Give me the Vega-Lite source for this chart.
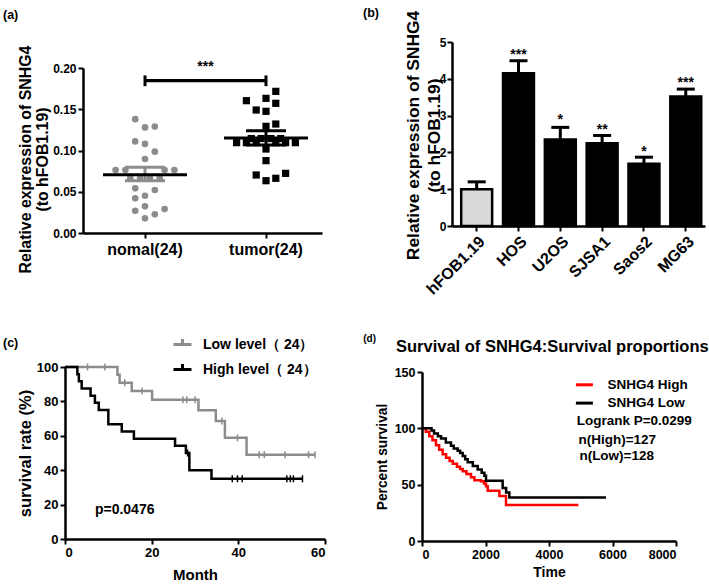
{
  "$schema": "https://vega.github.io/schema/vega-lite/v6.json",
  "padding": {"left": 3, "top": 6, "right": 0, "bottom": 0},
  "columns": 2,
  "align": "none",
  "spacing": {"row": 36, "column": 37},
  "resolve": {"scale": {"color": "independent", "xOffset": "independent"}, "legend": {"color": "independent"}},
  "datasets": {
    "a_pts": [
      {"group": "nomal(24)", "value": 0.138, "col": -1},
      {"group": "nomal(24)", "value": 0.128, "col": 0},
      {"group": "nomal(24)", "value": 0.129, "col": 1},
      {"group": "nomal(24)", "value": 0.111, "col": -1},
      {"group": "nomal(24)", "value": 0.108, "col": 0},
      {"group": "nomal(24)", "value": 0.0986, "col": 1},
      {"group": "nomal(24)", "value": 0.0897, "col": 0},
      {"group": "nomal(24)", "value": 0.0764, "col": -3},
      {"group": "nomal(24)", "value": 0.0764, "col": -2},
      {"group": "nomal(24)", "value": 0.0764, "col": 2},
      {"group": "nomal(24)", "value": 0.0764, "col": 3},
      {"group": "nomal(24)", "value": 0.0667, "col": -1.5},
      {"group": "nomal(24)", "value": 0.0667, "col": -0.5},
      {"group": "nomal(24)", "value": 0.0667, "col": 0.5},
      {"group": "nomal(24)", "value": 0.0667, "col": 1.5},
      {"group": "nomal(24)", "value": 0.0541, "col": -1},
      {"group": "nomal(24)", "value": 0.0521, "col": 1},
      {"group": "nomal(24)", "value": 0.042, "col": -1},
      {"group": "nomal(24)", "value": 0.0452, "col": 0},
      {"group": "nomal(24)", "value": 0.027, "col": -1},
      {"group": "nomal(24)", "value": 0.0323, "col": 0},
      {"group": "nomal(24)", "value": 0.029, "col": 2},
      {"group": "nomal(24)", "value": 0.0178, "col": 0},
      {"group": "nomal(24)", "value": 0.0226, "col": 1},
      {"group": "tumor(24)", "value": 0.1717, "col": 1},
      {"group": "tumor(24)", "value": 0.1604, "col": -2},
      {"group": "tumor(24)", "value": 0.1632, "col": 0},
      {"group": "tumor(24)", "value": 0.1572, "col": 1},
      {"group": "tumor(24)", "value": 0.1491, "col": -1},
      {"group": "tumor(24)", "value": 0.1475, "col": 0},
      {"group": "tumor(24)", "value": 0.1321, "col": 1},
      {"group": "tumor(24)", "value": 0.1293, "col": 0},
      {"group": "tumor(24)", "value": 0.1095, "col": -3},
      {"group": "tumor(24)", "value": 0.1095, "col": -2},
      {"group": "tumor(24)", "value": 0.1095, "col": -1},
      {"group": "tumor(24)", "value": 0.1095, "col": 1},
      {"group": "tumor(24)", "value": 0.1095, "col": 2},
      {"group": "tumor(24)", "value": 0.1095, "col": 3},
      {"group": "tumor(24)", "value": 0.1145, "col": -1.5},
      {"group": "tumor(24)", "value": 0.1145, "col": -0.5},
      {"group": "tumor(24)", "value": 0.1145, "col": 0.5},
      {"group": "tumor(24)", "value": 0.1145, "col": 1.5},
      {"group": "tumor(24)", "value": 0.1018, "col": 0},
      {"group": "tumor(24)", "value": 0.0877, "col": 0},
      {"group": "tumor(24)", "value": 0.0703, "col": -1},
      {"group": "tumor(24)", "value": 0.0723, "col": 2},
      {"group": "tumor(24)", "value": 0.0663, "col": 1},
      {"group": "tumor(24)", "value": 0.0634, "col": 0}
    ],
    "a_sum": [
      {"group": "nomal(24)", "mean": 0.0707, "lo": 0.0634, "hi": 0.0796},
      {"group": "tumor(24)", "mean": 0.1152, "lo": 0.1067, "hi": 0.124}
    ],
    "a_sig": [
      {"from": "nomal(24)", "to": "tumor(24)", "y": 0.1846, "capLo": 0.178, "capHi": 0.191, "label": "***", "labelY": 0.1964}
    ],
    "b_bars": [
      {"line": "hFOB1.19", "mean": 1.0, "hi": 1.2, "star": "", "starY": 1.3},
      {"line": "HOS", "mean": 4.15, "hi": 4.49, "star": "***", "starY": 4.55},
      {"line": "U2OS", "mean": 2.35, "hi": 2.68, "star": "*", "starY": 2.76},
      {"line": "SJSA1", "mean": 2.25, "hi": 2.46, "star": "**", "starY": 2.51},
      {"line": "Saos2", "mean": 1.69, "hi": 1.87, "star": "*", "starY": 1.9},
      {"line": "MG63", "mean": 3.52, "hi": 3.72, "star": "***", "starY": 3.78}
    ],
    "c_km": [
      {"g": "Low level（ 24）", "m": 0, "s": 100},
      {"g": "Low level（ 24）", "m": 12.1, "s": 95.5},
      {"g": "Low level（ 24）", "m": 12.6, "s": 90.9},
      {"g": "Low level（ 24）", "m": 15.4, "s": 86.1},
      {"g": "Low level（ 24）", "m": 20.1, "s": 81.0},
      {"g": "Low level（ 24）", "m": 30.8, "s": 74.8},
      {"g": "Low level（ 24）", "m": 34.8, "s": 68.6},
      {"g": "Low level（ 24）", "m": 36.9, "s": 58.8},
      {"g": "Low level（ 24）", "m": 41.9, "s": 49.0},
      {"g": "Low level（ 24）", "m": 57.7, "s": 49.0},
      {"g": "High level（ 24）", "m": 0, "s": 100},
      {"g": "High level（ 24）", "m": 2.85, "s": 95.8},
      {"g": "High level（ 24）", "m": 3.2, "s": 91.7},
      {"g": "High level（ 24）", "m": 3.85, "s": 87.5},
      {"g": "High level（ 24）", "m": 5.9, "s": 83.3},
      {"g": "High level（ 24）", "m": 6.9, "s": 79.2},
      {"g": "High level（ 24）", "m": 7.8, "s": 75.0},
      {"g": "High level（ 24）", "m": 10.0, "s": 66.7},
      {"g": "High level（ 24）", "m": 13.1, "s": 62.5},
      {"g": "High level（ 24）", "m": 15.9, "s": 58.3},
      {"g": "High level（ 24）", "m": 25.4, "s": 54.2},
      {"g": "High level（ 24）", "m": 27.9, "s": 50.0},
      {"g": "High level（ 24）", "m": 28.7, "s": 40.0},
      {"g": "High level（ 24）", "m": 33.8, "s": 35.0},
      {"g": "High level（ 24）", "m": 54.8, "s": 35.0}
    ],
    "c_cens": [
      {"g": "Low", "m": 5.2, "s": 100},
      {"g": "Low", "m": 9.2, "s": 100},
      {"g": "Low", "m": 13.8, "s": 90.9},
      {"g": "Low", "m": 17.8, "s": 86.1},
      {"g": "Low", "m": 27.2, "s": 81.0},
      {"g": "Low", "m": 28.1, "s": 81.0},
      {"g": "Low", "m": 30.0, "s": 81.0},
      {"g": "Low", "m": 36.2, "s": 68.6},
      {"g": "Low", "m": 39.8, "s": 58.8},
      {"g": "Low", "m": 44.8, "s": 49.0},
      {"g": "Low", "m": 46.0, "s": 49.0},
      {"g": "Low", "m": 50.8, "s": 49.0},
      {"g": "Low", "m": 56.2, "s": 49.0},
      {"g": "Low", "m": 57.7, "s": 49.0},
      {"g": "High", "m": 28.3, "s": 50.0},
      {"g": "High", "m": 38.6, "s": 35.0},
      {"g": "High", "m": 39.8, "s": 35.0},
      {"g": "High", "m": 40.9, "s": 35.0},
      {"g": "High", "m": 51.2, "s": 35.0},
      {"g": "High", "m": 52.0, "s": 35.0},
      {"g": "High", "m": 52.7, "s": 35.0},
      {"g": "High", "m": 54.8, "s": 35.0}
    ],
    "d_km": [
      {"g": "SNHG4 High", "t": 0, "s": 100},
      {"g": "SNHG4 High", "t": 120, "s": 97},
      {"g": "SNHG4 High", "t": 230, "s": 93},
      {"g": "SNHG4 High", "t": 330, "s": 89.5},
      {"g": "SNHG4 High", "t": 440, "s": 85},
      {"g": "SNHG4 High", "t": 540, "s": 81},
      {"g": "SNHG4 High", "t": 650, "s": 77},
      {"g": "SNHG4 High", "t": 760, "s": 74},
      {"g": "SNHG4 High", "t": 870, "s": 71},
      {"g": "SNHG4 High", "t": 970, "s": 68.5},
      {"g": "SNHG4 High", "t": 1100, "s": 66},
      {"g": "SNHG4 High", "t": 1200, "s": 64},
      {"g": "SNHG4 High", "t": 1282, "s": 62},
      {"g": "SNHG4 High", "t": 1400, "s": 59.5},
      {"g": "SNHG4 High", "t": 1543, "s": 56.5},
      {"g": "SNHG4 High", "t": 1650, "s": 54},
      {"g": "SNHG4 High", "t": 1858, "s": 53},
      {"g": "SNHG4 High", "t": 1950, "s": 51},
      {"g": "SNHG4 High", "t": 2016, "s": 48.5},
      {"g": "SNHG4 High", "t": 2069, "s": 44.5},
      {"g": "SNHG4 High", "t": 2437, "s": 40},
      {"g": "SNHG4 High", "t": 2646, "s": 32},
      {"g": "SNHG4 High", "t": 4926, "s": 32},
      {"g": "SNHG4 Low", "t": 0, "s": 100},
      {"g": "SNHG4 Low", "t": 300, "s": 98},
      {"g": "SNHG4 Low", "t": 380, "s": 95.5},
      {"g": "SNHG4 Low", "t": 500, "s": 93},
      {"g": "SNHG4 Low", "t": 600, "s": 91},
      {"g": "SNHG4 Low", "t": 750, "s": 87.5},
      {"g": "SNHG4 Low", "t": 913, "s": 84.5},
      {"g": "SNHG4 Low", "t": 1000, "s": 82},
      {"g": "SNHG4 Low", "t": 1124, "s": 80},
      {"g": "SNHG4 Low", "t": 1200, "s": 78},
      {"g": "SNHG4 Low", "t": 1282, "s": 75.5},
      {"g": "SNHG4 Low", "t": 1360, "s": 72.5},
      {"g": "SNHG4 Low", "t": 1439, "s": 70},
      {"g": "SNHG4 Low", "t": 1600, "s": 66.5},
      {"g": "SNHG4 Low", "t": 1754, "s": 63.5},
      {"g": "SNHG4 Low", "t": 1880, "s": 60.5},
      {"g": "SNHG4 Low", "t": 1965, "s": 58},
      {"g": "SNHG4 Low", "t": 2016, "s": 53.5},
      {"g": "SNHG4 Low", "t": 2540, "s": 47},
      {"g": "SNHG4 Low", "t": 2650, "s": 43},
      {"g": "SNHG4 Low", "t": 2751, "s": 38.5},
      {"g": "SNHG4 Low", "t": 5795, "s": 38.5}
    ],
    "d_txt": [
      {"label": "Logrank P=0.0299", "t": 4872, "s": 106.5},
      {"label": "n(High)=127", "t": 4926, "s": 89.6},
      {"label": "n(Low)=128", "t": 4957, "s": 75.4}
    ]
  },
  "concat": [
    {
      "width": 257,
      "height": 191,
      "title": {"text": "(a)", "fontSize": 12.5, "dx": -62, "dy": -7.5, "offset": 0, "baseline": "bottom"},
      "encoding": {
        "x": {
          "field": "group", "type": "nominal", "sort": ["nomal(24)", "tumor(24)"],
          "scale": {"type": "band", "domain": ["nomal(24)", "tumor(24)"], "paddingInner": 0.6, "paddingOuter": 0.362, "align": 0.637},
          "axis": {"title": null, "labelFontSize": 16, "labelAngle": 0, "labelPadding": 3, "domainDash": [239, 18], "domainDashOffset": 239}
        }
      },
      "layer": [
        {
          "data": {"name": "a_pts"},
          "transform": [{"filter": "datum.group === 'nomal(24)'"}],
          "mark": {"type": "point", "shape": "circle", "filled": true, "opacity": 1, "size": 44, "color": "#8c8c8c"},
          "encoding": {
            "xOffset": {"field": "col", "type": "quantitative", "scale": {"domain": [-2.47, 2.47]}},
            "y": {
              "field": "value", "type": "quantitative",
              "scale": {"domain": [0, 0.23152], "nice": false, "zero": true},
              "axis": {
                "title": ["Relative expression of SNHG4", "(to hFOB1.19)"],
                "values": [0, 0.05, 0.1, 0.15, 0.2], "format": ".2f", "labelOverlap": false,
                "offset": -18, "domainDash": [165, 1000],
                "titleFontSize": 15.9, "titleLineHeight": 17.5, "titleLimit": 1000,
                "titleX": -50, "titleY": 117, "titleBaseline": "bottom", "titleAlign": "center", "titleAngle": -90
              }
            }
          }
        },
        {
          "data": {"name": "a_pts"},
          "transform": [{"filter": "datum.group === 'tumor(24)'"}],
          "mark": {"type": "point", "shape": "square", "filled": true, "opacity": 1, "size": 52, "color": "#000000"},
          "encoding": {
            "xOffset": {"field": "col", "type": "quantitative"},
            "y": {"field": "value", "type": "quantitative"}
          }
        },
        {
          "data": {"name": "a_sum"},
          "mark": {"type": "rule", "strokeWidth": 3},
          "encoding": {
            "y": {"field": "lo", "type": "quantitative"},
            "y2": {"field": "hi"},
            "color": {"field": "group", "type": "nominal", "scale": {"domain": ["nomal(24)", "tumor(24)"], "range": ["#8c8c8c", "#000000"]}, "legend": null}
          }
        },
        {
          "data": {"name": "a_sum"},
          "mark": {"type": "tick", "size": 40, "thickness": 3, "opacity": 1},
          "encoding": {
            "y": {"field": "lo", "type": "quantitative"},
            "color": {"field": "group", "type": "nominal", "legend": null}
          }
        },
        {
          "data": {"name": "a_sum"},
          "mark": {"type": "tick", "size": 40, "thickness": 3, "opacity": 1},
          "encoding": {
            "y": {"field": "hi", "type": "quantitative"},
            "color": {"field": "group", "type": "nominal", "legend": null}
          }
        },
        {
          "data": {"name": "a_sum"},
          "mark": {"type": "tick", "size": 84, "thickness": 3, "opacity": 1, "color": "#000000"},
          "encoding": {
            "y": {"field": "mean", "type": "quantitative"}
          }
        },
        {
          "data": {"name": "a_sig"},
          "mark": {"type": "rule", "strokeWidth": 3.2, "color": "#000000"},
          "encoding": {
            "x": {"field": "from", "type": "nominal"},
            "x2": {"field": "to"},
            "y": {"field": "y", "type": "quantitative"}
          }
        },
        {
          "data": {"name": "a_sig"},
          "mark": {"type": "rule", "strokeWidth": 3, "color": "#000000"},
          "encoding": {
            "x": {"field": "from", "type": "nominal"},
            "y": {"field": "capLo", "type": "quantitative"},
            "y2": {"field": "capHi"}
          }
        },
        {
          "data": {"name": "a_sig"},
          "mark": {"type": "rule", "strokeWidth": 3, "color": "#000000"},
          "encoding": {
            "x": {"field": "to", "type": "nominal"},
            "y": {"field": "capLo", "type": "quantitative"},
            "y2": {"field": "capHi"}
          }
        },
        {
          "data": {"name": "a_sig"},
          "mark": {"type": "text", "fontSize": 14, "fontWeight": "bold", "baseline": "alphabetic", "align": "center", "dx": 60.5},
          "encoding": {
            "x": {"field": "from", "type": "nominal"},
            "y": {"field": "labelY", "type": "quantitative"},
            "text": {"field": "label"}
          }
        }
      ]
    },
    {
      "width": 253,
      "height": 184,
      "title": {"text": "(b)", "fontSize": 12.5, "dx": -89, "dy": 22, "offset": 0, "baseline": "bottom"},
      "data": {"name": "b_bars"},
      "encoding": {
        "x": {
          "field": "line", "type": "nominal",
          "sort": ["hFOB1.19", "HOS", "U2OS", "SJSA1", "Saos2", "MG63"],
          "scale": {"type": "band", "paddingInner": 0.26, "paddingOuter": 0.155, "align": 0.71},
          "axis": {"title": null, "labelAngle": -45, "labelFontSize": 16, "labelPadding": 2}
        },
        "y": {
          "field": "mean", "type": "quantitative",
          "scale": {"domain": [0, 5], "nice": false},
          "axis": {
            "title": ["Relative expression of SNHG4", "(to hFOB1.19)"],
            "values": [0, 1, 2, 3, 4, 5], "tickCount": 6, "labelPadding": 1, "labelOverlap": false, "labelBound": false, "format": "d",
            "titleFontSize": 17.4, "titleLineHeight": 21, "titleLimit": 1000,
            "titleX": -30, "titleY": 93, "titleBaseline": "bottom", "titleAlign": "center", "titleAngle": -90
          }
        }
      },
      "layer": [
        {
          "mark": {"type": "bar", "stroke": "#000000", "strokeWidth": 2.5},
          "encoding": {
            "fill": {"condition": {"test": "datum.line === 'hFOB1.19'", "value": "#d9d9d9"}, "value": "#000000"}
          }
        },
        {
          "mark": {"type": "rule", "strokeWidth": 3, "color": "#000000"},
          "encoding": {
            "y2": {"field": "hi"}
          }
        },
        {
          "mark": {"type": "tick", "size": 18, "thickness": 3, "color": "#000000", "opacity": 1},
          "encoding": {
            "y": {"field": "hi", "type": "quantitative"}
          }
        },
        {
          "transform": [{"filter": "datum.star !== ''"}],
          "mark": {"type": "text", "fontSize": 14, "fontWeight": "bold", "baseline": "alphabetic", "align": "center"},
          "encoding": {
            "y": {"field": "starY", "type": "quantitative"},
            "text": {"field": "star"}
          }
        }
      ]
    },
    {
      "width": 260,
      "height": 172,
      "title": {"text": "(c)", "fontSize": 12.5, "dx": -62, "dy": 28, "offset": 0, "baseline": "bottom"},
      "encoding": {
        "x": {
          "field": "m", "type": "quantitative",
          "scale": {"domain": [0, 60], "nice": false},
          "axis": {"title": "Month", "values": [0, 20, 40, 60], "labelFontSize": 13, "titleFontSize": 15, "titleY": 35.5, "titleBaseline": "middle"}
        },
        "y": {
          "field": "s", "type": "quantitative",
          "scale": {"domain": [0, 100], "nice": false},
          "axis": {"title": "survival rate (%)", "values": [0, 20, 40, 60, 80, 100], "labelFontSize": 13, "labelOverlap": false, "titleFontSize": 16.5, "titleX": -32, "titleBaseline": "bottom", "titleAngle": -90}
        }
      },
      "layer": [
        {
          "data": {"name": "c_km"},
          "mark": {"type": "line", "interpolate": "step-after", "strokeWidth": 2.5},
          "encoding": {
            "color": {
              "field": "g", "type": "nominal",
              "scale": {"domain": ["Low level（ 24）", "High level（ 24）"], "range": ["#8c8c8c", "#000000"]},
              "legend": {
                "orient": "none", "legendX": 107, "legendY": -33, "title": null, "padding": 0,
                "symbolType": "M-1,0L1,0M0,0L0,-0.6", "symbolSize": 324, "symbolStrokeWidth": 3,
                "labelFontSize": 14, "labelFontWeight": "bold", "labelOffset": 10, "rowPadding": 6, "labelColor": "#000000"
              }
            }
          }
        },
        {
          "data": {"name": "c_cens"},
          "transform": [{"filter": "datum.g === 'Low'"}],
          "mark": {"type": "tick", "orient": "vertical", "size": 7, "thickness": 1.5, "color": "#8c8c8c", "opacity": 1}
        },
        {
          "data": {"name": "c_cens"},
          "transform": [{"filter": "datum.g === 'High'"}],
          "mark": {"type": "tick", "orient": "vertical", "size": 7, "thickness": 1.5, "color": "#000000", "opacity": 1}
        },
        {
          "data": {"values": [{"label": "p=0.0476", "m": 6.9, "s": 17}]},
          "mark": {"type": "text", "fontSize": 14, "fontWeight": "bold", "align": "left", "baseline": "middle"},
          "encoding": {"text": {"field": "label"}}
        }
      ]
    },
    {
      "width": 254,
      "height": 169,
      "title": {"text": "Survival of SNHG4:Survival proportions", "fontSize": 16.5, "dx": -26, "dy": 37, "offset": 0, "baseline": "bottom"},
      "encoding": {
        "x": {
          "field": "t", "type": "quantitative",
          "scale": {"domain": [0, 8000], "nice": false},
          "axis": {"title": "Time", "values": [0, 2000, 4000, 6000, 8000], "format": "d", "labelFontSize": 12.5, "titleFontSize": 14, "titleY": 31.6, "titleBaseline": "middle"}
        },
        "y": {
          "field": "s", "type": "quantitative",
          "scale": {"domain": [0, 150], "nice": false},
          "axis": {"title": "Percent survival", "values": [0, 50, 100, 150], "labelFontSize": 12.5, "labelOverlap": false, "titleFontSize": 13.8, "titleX": -32.3, "titleBaseline": "bottom", "titleAngle": -90}
        }
      },
      "layer": [
        {
          "data": {"name": "d_km"},
          "mark": {"type": "line", "interpolate": "step-after", "strokeWidth": 2.5},
          "encoding": {
            "color": {
              "field": "g", "type": "nominal",
              "scale": {"domain": ["SNHG4 High", "SNHG4 Low"], "range": ["#ff0000", "#000000"]},
              "legend": {
                "orient": "none", "legendX": 152.4, "legendY": 2.8, "title": null, "padding": 0,
                "symbolType": "stroke", "symbolSize": 289, "symbolStrokeWidth": 3,
                "labelFontSize": 13.5, "labelFontWeight": "bold", "labelOffset": 13, "rowPadding": 1.3, "labelColor": "#000000"
              }
            }
          }
        },
        {
          "data": {"name": "d_txt"},
          "mark": {"type": "text", "fontSize": 13.5, "fontWeight": "bold", "align": "left", "baseline": "middle"},
          "encoding": {"text": {"field": "label"}}
        },
        {
          "data": {"values": [{"label": "(d)", "t": -1650, "s": 179}]},
          "mark": {"type": "text", "fontSize": 10, "fontWeight": "bold", "align": "center", "baseline": "middle"},
          "encoding": {"text": {"field": "label"}}
        }
      ]
    }
  ],
  "config": {
    "font": "Liberation Sans",
    "view": {"stroke": null},
    "axis": {
      "domainColor": "#000000", "domainWidth": 2.5, "tickColor": "#000000", "tickWidth": 2, "tickSize": 5,
      "labelColor": "#000000", "labelFont": "Liberation Sans", "labelFontWeight": "bold", "labelFontSize": 12,
      "titleColor": "#000000", "titleFont": "Liberation Sans", "titleFontWeight": "bold", "grid": false, "labelPadding": 2
    },
    "title": {"color": "#000000", "font": "Liberation Sans", "fontWeight": "bold", "anchor": "start", "frame": "group"},
    "legend": {"labelColor": "#000000", "labelFont": "Liberation Sans", "labelFontWeight": "bold"},
    "text": {"font": "Liberation Sans", "fontWeight": "bold", "color": "#000000"}
  }
}
